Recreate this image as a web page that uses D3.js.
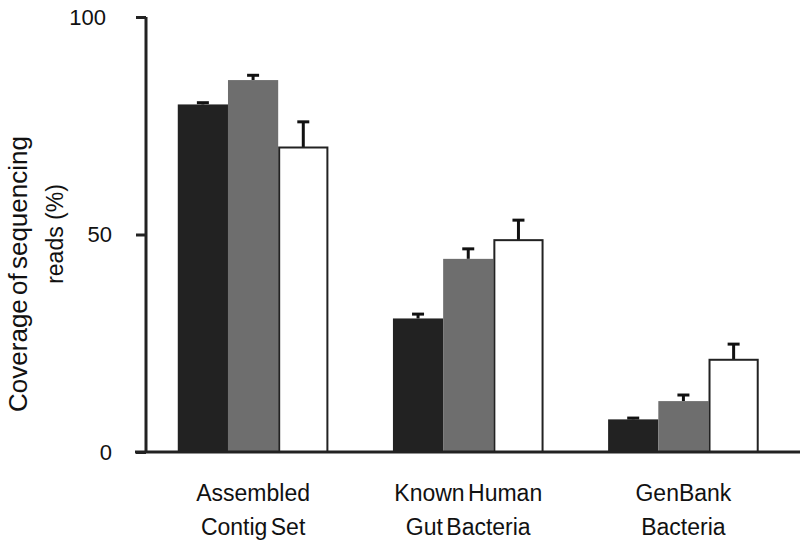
<!DOCTYPE html>
<html><head><meta charset="utf-8">
<script src="https://cdn.jsdelivr.net/npm/d3@7"></script>
<style>body{margin:0;background:#fff}svg{display:block}text{font-family:"Liberation Sans",Arial,sans-serif;fill:#111}</style>
</head><body><svg id="c" width="800" height="550"></svg>
<script>
const categories = [["Assembled","Contig Set"],["Known Human","Gut Bacteria"],["GenBank","Bacteria"]];
const seriesNames = ["s1","s2","s3"];
const values1 = [79.9, 30.7, 7.5];
const values2 = [85.5, 44.4, 11.7];
const values3 = [70.0, 48.7, 21.2];
const errors1 = [0.4, 1.0, 0.3];
const errors2 = [1.1, 2.3, 1.4];
const errors3 = [5.9, 4.6, 3.6];
const yTicks = [0, 50, 100];
const fills = ["#222222", "#6e6e6e", "#ffffff"];

const svg = d3.select("#c");
const y = d3.scaleLinear().domain([0,100]).range([452,17]);
const x0 = d3.scaleBand().domain(d3.range(categories.length)).range([145.5,791]).paddingInner(0.3).paddingOuter(0.15);
const x1 = d3.scaleBand().domain(seriesNames).range([0, x0.bandwidth()]);

const vals = [values1, values2, values3];
const errs = [errors1, errors2, errors3];

const data = [];
categories.forEach((c,i)=>seriesNames.forEach((s,j)=>data.push({i,j,s,v:vals[j][i],e:errs[j][i]})));

// error bars (behind bars)
const eb = svg.append("g").attr("stroke","#111").attr("stroke-width",3);
data.forEach(d=>{
  const cx = x0(d.i)+x1(d.s)+x1.bandwidth()/2;
  eb.append("line").attr("x1",cx).attr("x2",cx).attr("y1",y(d.v)).attr("y2",y(d.v+d.e));
  eb.append("line").attr("x1",cx-6).attr("x2",cx+6).attr("y1",y(d.v+d.e)).attr("y2",y(d.v+d.e));
});

svg.append("g").selectAll("rect").data(data).join("rect")
  .attr("x",d=>x0(d.i)+x1(d.s)+(d.j===2?1:0))
  .attr("y",d=>y(d.v))
  .attr("width",d=>x1.bandwidth()-(d.j===2?2:0))
  .attr("height",d=>y(0)-y(d.v))
  .attr("fill",d=>fills[d.j])
  .attr("stroke",d=>d.j===2?"#222":"none")
  .attr("stroke-width",2);

// y axis
const ya = svg.append("g").attr("transform","translate(146,0)")
  .call(d3.axisLeft(y).tickValues(yTicks).tickSize(10).tickPadding(24).tickFormat(d3.format("d")));
ya.select(".domain").attr("d",`M0,${y(100)}V${y(0)}`).attr("stroke","#222").attr("stroke-width",3);
ya.selectAll(".tick line").attr("stroke","#222").attr("stroke-width",3);
ya.selectAll(".tick text").attr("font-size",22).attr("font-family","Liberation Sans, Arial, sans-serif").attr("fill","#111")
  .attr("dx",d=>d===100?-6:0);

// x axis baseline
svg.append("line").attr("x1",135).attr("x2",800).attr("y1",y(0)).attr("y2",y(0)).attr("stroke","#222").attr("stroke-width",3);

// category labels
categories.forEach((c,i)=>{
  const cx = x0(i)+x0.bandwidth()/2;
  c.forEach((t,k)=>svg.append("text").attr("x",cx).attr("y",501+k*34).attr("text-anchor","middle")
    .attr("font-size",23).attr("word-spacing",-3).text(t));
});

// y title
svg.append("text").attr("transform","translate(27,274) rotate(-90)").attr("text-anchor","middle").attr("font-size",26).attr("word-spacing",-3).text("Coverage of sequencing");
svg.append("text").attr("transform","translate(63,234) rotate(-90)").attr("text-anchor","middle").attr("font-size",23).text("reads (%)");
</script></body></html>
